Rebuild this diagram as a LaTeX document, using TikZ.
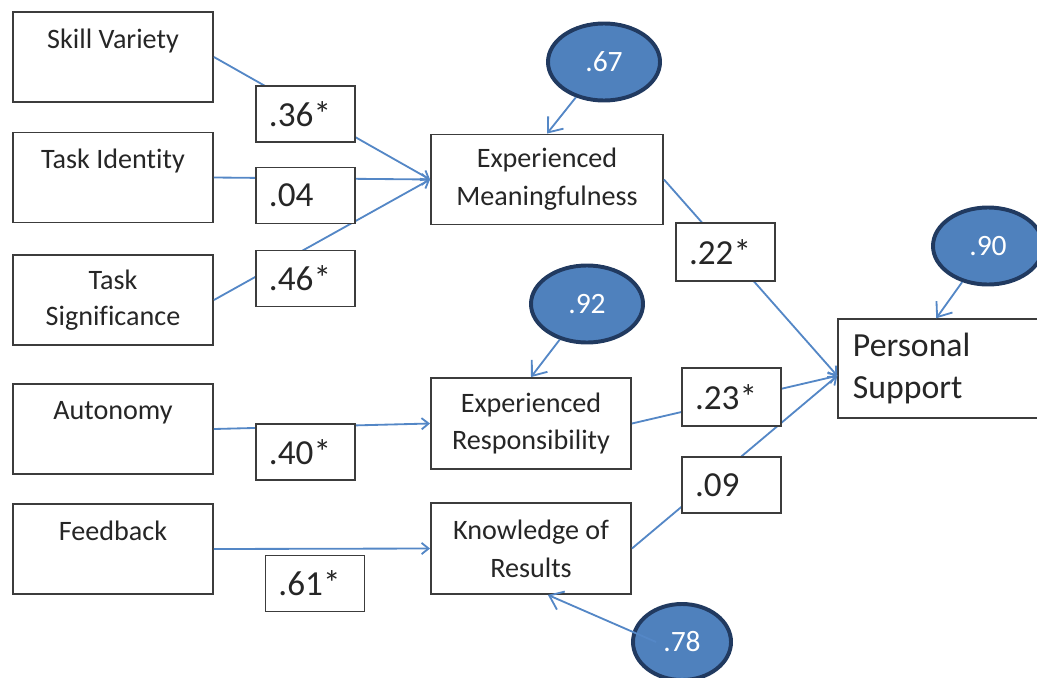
\documentclass[tikz,border=0pt]{standalone}
\usepackage{fontspec}
\setmainfont{Carlito}[Ligatures=NoCommon]
\usetikzlibrary{arrows.meta,shapes.geometric}

\definecolor{pathblue}{RGB}{84,135,198}
\definecolor{errfill}{RGB}{79,129,189}
\definecolor{errdraw}{RGB}{33,58,96}
\definecolor{boxline}{RGB}{60,60,60}
\definecolor{txt}{RGB}{38,38,38}

\tikzset{
  varbox/.style={draw=boxline, line width=1.3pt, fill=white, text=txt, align=center,
    minimum width=5cm, minimum height=2.25cm, inner sep=0pt, font=\fontsize{20}{26}\selectfont},
  coef/.style={draw=boxline, line width=0.8pt, fill=white, text=txt, text width=1.825cm,
    inner xsep=0.325cm, inner ysep=0pt, minimum height=1.4cm, align=left,
    font=\fontsize{25}{28}\selectfont},
  err/.style={ellipse, draw=errdraw, line width=2.8pt, fill=errfill, text=white, inner sep=0pt,
    minimum width=2.8cm, minimum height=1.925cm, font=\fontsize{21}{23}\selectfont},
  effect/.style={draw=pathblue, line width=1.3pt, -{Straight Barb[length=5pt,width=8pt]}},
  errarrow/.style={draw=pathblue, line width=1.3pt, -{Straight Barb[length=9pt,width=14pt]}},
}

\begin{document}
\begin{tikzpicture}[x=0.025cm, y=-0.025cm]
    \useasboundingbox (0,0) rectangle (1037,677);

    % the job characteristics
    \node[varbox] (sv) at (113,57) {Skill Variety\\ ~};
    \node[varbox] (ti) at (113,177.5) {Task Identity\\ ~};
    \node[varbox] (ts) at (113,300) {Task\\ Significance};
    \node[varbox] (au) at (113,429) {Autonomy\\ ~};
    \node[varbox] (fb) at (113,549) {Feedback\\ ~};

    % the psychological states
    \node[varbox, minimum width=5.8cm, font=\fontsize{20}{27}\selectfont] (em) at (547,179.5) {Experienced\\ Meaningfulness};
    \node[varbox, minimum height=2.275cm, font=\fontsize{20}{27}\selectfont] (er) at (531,423.5) {Experienced\\ Responsibility};
    \node[varbox, minimum height=2.275cm, font=\fontsize{20}{27}\selectfont] (kr) at (531,548.5) {Knowledge of\\ Results};

    % the outcome (runs off the right edge)
    \node[varbox, line width=1pt, align=left, text width=4.425cm, inner xsep=0.375cm,
      minimum width=5.175cm, minimum height=2.475cm, font=\fontsize{24}{30}\selectfont]
      (ps) at (941.5,368.5) {Personal\\ Support};

    % draw the paths
    \draw[effect] (sv.east) -- (em.west);
    \draw[effect] (ti.east) -- (em.west);
    \draw[effect] (ts.east) -- (em.west);
    \draw[effect] (au.east) -- (er.west);
    \draw[effect] (fb.east) -- (kr.west);
    \draw[effect] (em.east) -- (ps.184);
    \draw[effect] (er.east) -- (ps.184);
    \draw[effect] (kr.east) -- (ps.184);

    % the path coefficients, on top of the lines
    \node[coef] (c36) at (305.5,114) {.36*};
    \node[coef] (c04) at (305.5,195.5) {.04};
    \node[coef] (c46) at (305.5,278.5) {.46*};
    \node[coef] (c40) at (305.5,452) {.40*};
    \node[coef] (c61) at (315,583.5) {.61*};
    \node[coef, minimum height=1.45cm] (c22) at (725.5,252) {.22*};
    \node[coef, minimum height=1.45cm] (c23) at (731.5,397) {.23*};
    \node[coef] (c09) at (731.5,485) {.09};

    % the error terms
    \node[err] (e67) at (604,62) {.67};
    \node[err] (e92) at (587,304) {.92};
    \node[err, minimum width=2.75cm] (e90) at (988,246) {.90};
    \node[err, minimum width=2.45cm, minimum height=1.9cm] (e78) at (682,642) {.78};
    \coordinate (e78in) at (656,642);

    \draw[errarrow] (e67) -- (em.north);
    \draw[errarrow] (e92) -- (er.north);
    \draw[errarrow] (e90) -- (ps.96);
    \draw[errarrow] (e78in) -- (kr.-70);

\end{tikzpicture}
\end{document}
